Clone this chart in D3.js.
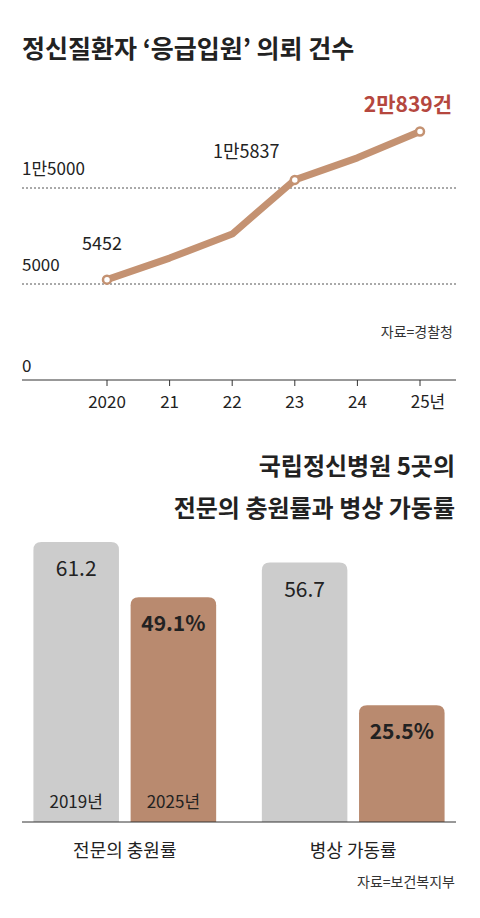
<!DOCTYPE html><html><head><meta charset="utf-8"><script src="https://cdn.jsdelivr.net/npm/d3@7"></script>
<style>body{margin:0;background:#fff}text{font-family:"Noto Sans CJK KR","Noto Sans",sans-serif}</style></head><body><svg id="c" width="480" height="918"></svg>
<script>
const years=["2020","21","22","23","24","25년"];
const counts=[5452,7700,10200,15837,18120,20839];
const yTicks=[0,5000,15000];
const yTickLabels=["0","5000","1만5000"];
const groups=["전문의 충원률","병상 가동률"];
const seriesNames=["2019년","2025년"];
const v2019=[61.2,56.7];
const v2025=[49.1,25.5];
const svg=d3.select("#c");
svg.append("text").attr("x",22).attr("y",58).attr("font-size",25).attr("font-weight",700).attr("fill","#222").text("정신질환자 ‘응급입원’ 의뢰 건수");
const x=d3.scalePoint().domain(years).range([107,420]);
const y=d3.scaleLinear().domain([0,5000,15000,21000]).range([380,284,188,130]);
[5000,15000].forEach(v=>svg.append("line").attr("x1",22).attr("x2",456).attr("y1",y(v)).attr("y2",y(v)).attr("stroke","#555").attr("stroke-dasharray","2,2"));
svg.append("line").attr("x1",22).attr("x2",456).attr("y1",380).attr("y2",380).attr("stroke","#333");
yTicks.forEach((v,i)=>svg.append("text").attr("x",22).attr("y",(v===0?372:y(v)-13)).attr("font-size",17).attr("fill","#222").text(yTickLabels[i]));
years.forEach(yr=>{svg.append("line").attr("x1",x(yr)).attr("x2",x(yr)).attr("y1",380).attr("y2",386).attr("stroke","#333");
 svg.append("text").attr("x",x(yr)+(yr==="25년"?8:0)).attr("y",408).attr("text-anchor","middle").attr("font-size",17).attr("fill","#222").text(yr);});
const line=d3.line().x((d,i)=>x(years[i])).y(d=>y(d));
svg.append("path").attr("d",line(counts)).attr("fill","none").attr("stroke","#c49272").attr("stroke-width",7).attr("stroke-linejoin","round");
[0,3,5].forEach(i=>svg.append("circle").attr("cx",x(years[i])).attr("cy",y(counts[i])).attr("r",4).attr("fill","#fff").attr("stroke","#c49272").attr("stroke-width",2.5));
svg.append("text").attr("x",82).attr("y",250).attr("font-size",18).attr("fill","#222").text("5452");
svg.append("text").attr("x",213).attr("y",158).attr("font-size",18).attr("fill","#222").text("1만5837");
svg.append("text").attr("x",452).attr("y",112).attr("text-anchor","end").attr("font-size",21).attr("font-weight",700).attr("fill","#b5473e").text("2만839건");
svg.append("text").attr("x",453).attr("y",337).attr("text-anchor","end").attr("font-size",14).attr("fill","#333").text("자료=경찰청");
// bottom chart
svg.append("text").attr("x",455).attr("y",475).attr("text-anchor","end").attr("font-size",24).attr("font-weight",700).attr("fill","#222").text("국립정신병원 5곳의");
svg.append("text").attr("x",455).attr("y",517).attr("text-anchor","end").attr("font-size",24).attr("font-weight",700).attr("fill","#222").text("전문의 충원률과 병상 가동률");
const x0=d3.scaleBand().domain(groups).range([22,456]).paddingInner(0.2).paddingOuter(0.05);
const x1=d3.scaleBand().domain(seriesNames).range([0,x0.bandwidth()]).paddingInner(0.12);
const yb=d3.scaleLinear().domain([0,61.2]).range([822,542]);
const cols={"2019년":"#cccccc","2025년":"#b98a6f"};
groups.forEach((g,gi)=>{
 [[seriesNames[0],v2019[gi]],[seriesNames[1],v2025[gi]]].forEach(([s,v],si)=>{
  const bx=x0(g)+x1(s), bw=x1.bandwidth(), top=yb(v), r=8;
  svg.append("path").attr("d",`M${bx},822V${top+r}Q${bx},${top} ${bx+r},${top}H${bx+bw-r}Q${bx+bw},${top} ${bx+bw},${top+r}V822Z`).attr("fill",cols[s]);
  svg.append("text").attr("x",bx+bw/2).attr("y",top+34).attr("text-anchor","middle").attr("font-size",21).attr("font-weight",si?700:400).attr("fill","#222").text(si?v.toFixed(1)+"%":v.toFixed(1));
  if(gi===0) svg.append("text").attr("x",bx+bw/2).attr("y",808).attr("text-anchor","middle").attr("font-size",17).attr("fill","#222").text(s);
 });
 svg.append("text").attr("x",x0(g)+x0.bandwidth()/2).attr("y",857).attr("text-anchor","middle").attr("font-size",18).attr("fill","#222").text(g);
});
svg.append("line").attr("x1",22).attr("x2",456).attr("y1",822).attr("y2",822).attr("stroke","#333");
svg.append("text").attr("x",455).attr("y",887).attr("text-anchor","end").attr("font-size",14).attr("fill","#333").text("자료=보건복지부");
</script></body></html>
